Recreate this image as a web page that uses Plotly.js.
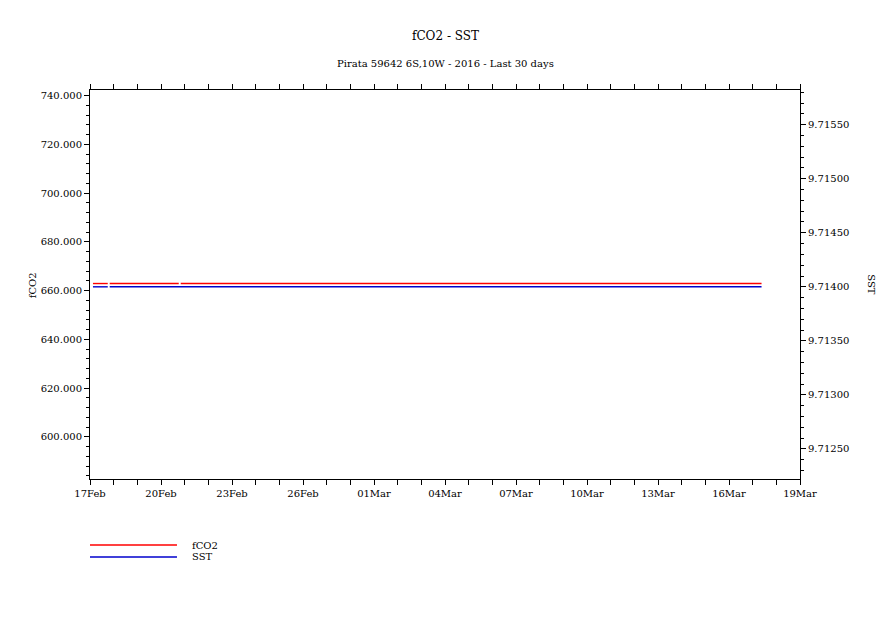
<!DOCTYPE html>
<html>
<head>
<meta charset="utf-8">
<script src="https://cdn.plot.ly/plotly-3.0.1.min.js"></script>
<style>html,body{margin:0;padding:0;background:#fff;}#chart{width:891px;height:630px;}</style>
</head>
<body>
<div id="chart"></div>
<script>
// Time in days since 17 Feb 00:00 (null = missing sample, breaks the line)
var fco2Time = [0.125, 0.75, null, 0.833, 3.75, null, 3.833, 28.375];
var fco2Values = [662.9, 662.9, null, 662.9, 662.9, null, 662.9, 662.9];
var sstTime = [0.125, 0.75, null, 0.833, 28.375];
var sstValues = [9.714, 9.714, null, 9.714, 9.714];

var xTickVals = [0, 3, 6, 9, 12, 15, 18, 21, 24, 27, 30];
var xTickText = ["17Feb", "20Feb", "23Feb", "26Feb", "01Mar", "04Mar", "07Mar", "10Mar", "13Mar", "16Mar", "19Mar"];

var FONT = "DejaVu Serif";
var traces = [
  {x: fco2Time, y: fco2Values, type: "scatter", mode: "lines", name: "fCO2",
   line: {color: "#ff0000", width: 1.4}, connectgaps: false, yaxis: "y"},
  {x: sstTime, y: sstValues, type: "scatter", mode: "lines", name: "SST",
   line: {color: "#0000cc", width: 1.4}, connectgaps: false, yaxis: "y2"}
];

var tickFont = {family: FONT, size: 10, color: "#000"};
var layout = {
  width: 891, height: 630,
  margin: {l: 90, r: 91, t: 90, b: 151},
  paper_bgcolor: "#fff", plot_bgcolor: "#fff",
  showlegend: false,
  font: {family: FONT, color: "#000"},
  xaxis: {
    range: [0, 30], tickmode: "array", tickvals: xTickVals, ticktext: xTickText,
    ticks: "outside", ticklen: 5, tickwidth: 1, tickcolor: "#000",
    showline: true, linecolor: "#000", linewidth: 1, mirror: "allticks",
    showgrid: false, zeroline: false, tickfont: tickFont,
    minor: {tickmode: "linear", tick0: 0, dtick: 1, ticks: "outside", ticklen: 3, tickcolor: "#000", showgrid: false}
  },
  yaxis: {
    range: [582.7, 742.3], tickmode: "linear", tick0: 0, dtick: 20, tickformat: ".3f",
    ticks: "outside", ticklen: 5, tickwidth: 1, tickcolor: "#000",
    showline: true, linecolor: "#000", linewidth: 1,
    showgrid: false, zeroline: false, tickfont: tickFont,
    minor: {tickmode: "linear", tick0: 0, dtick: 4, ticks: "outside", ticklen: 3, tickcolor: "#000", showgrid: false}
  },
  yaxis2: {
    overlaying: "y", side: "right",
    range: [9.712222, 9.715821], tickmode: "linear", tick0: 0, dtick: 0.0005, tickformat: ".5f",
    ticks: "outside", ticklen: 5, tickwidth: 1, tickcolor: "#000",
    showline: true, linecolor: "#000", linewidth: 1,
    showgrid: false, zeroline: false, tickfont: tickFont,
    minor: {tickmode: "linear", tick0: 0, dtick: 0.0001, ticks: "outside", ticklen: 3, tickcolor: "#000", showgrid: false}
  },
  shapes: [
    {type: "line", xref: "paper", yref: "paper", x0: 0, x1: 0.1225, y0: -0.1697, y1: -0.1697, line: {color: "#ff0000", width: 1.4}},
    {type: "line", xref: "paper", yref: "paper", x0: 0, x1: 0.1225, y0: -0.2005, y1: -0.2005, line: {color: "#0000cc", width: 1.4}}
  ],
  annotations: [
    {text: "fCO2 - SST", xref: "paper", yref: "paper", x: 0.5, y: 1.139, xanchor: "center", yanchor: "middle", showarrow: false, font: {family: FONT, size: 12, color: "#000"}},
    {text: "Pirata 59642 6S,10W - 2016 - Last 30 days", xref: "paper", yref: "paper", x: 0.5, y: 1.067, xanchor: "center", yanchor: "middle", showarrow: false, font: {family: FONT, size: 10, color: "#000"}},
    {text: "fCO2", xref: "paper", yref: "paper", x: -0.0817, y: 0.498, xanchor: "center", yanchor: "middle", textangle: -90, showarrow: false, font: {family: FONT, size: 10, color: "#000"}},
    {text: "SST", xref: "paper", yref: "paper", x: 1.1014, y: 0.498, xanchor: "center", yanchor: "middle", textangle: 90, showarrow: false, font: {family: FONT, size: 10, color: "#000"}},
    {text: "fCO2", xref: "paper", yref: "paper", x: 0.1408, y: -0.1697, xanchor: "left", yanchor: "middle", showarrow: false, font: {family: FONT, size: 10, color: "#000"}},
    {text: "SST", xref: "paper", yref: "paper", x: 0.1408, y: -0.2005, xanchor: "left", yanchor: "middle", showarrow: false, font: {family: FONT, size: 10, color: "#000"}}
  ]
};

Plotly.newPlot("chart", traces, layout, {displayModeBar: false, staticPlot: true});
</script>
</body>
</html>
